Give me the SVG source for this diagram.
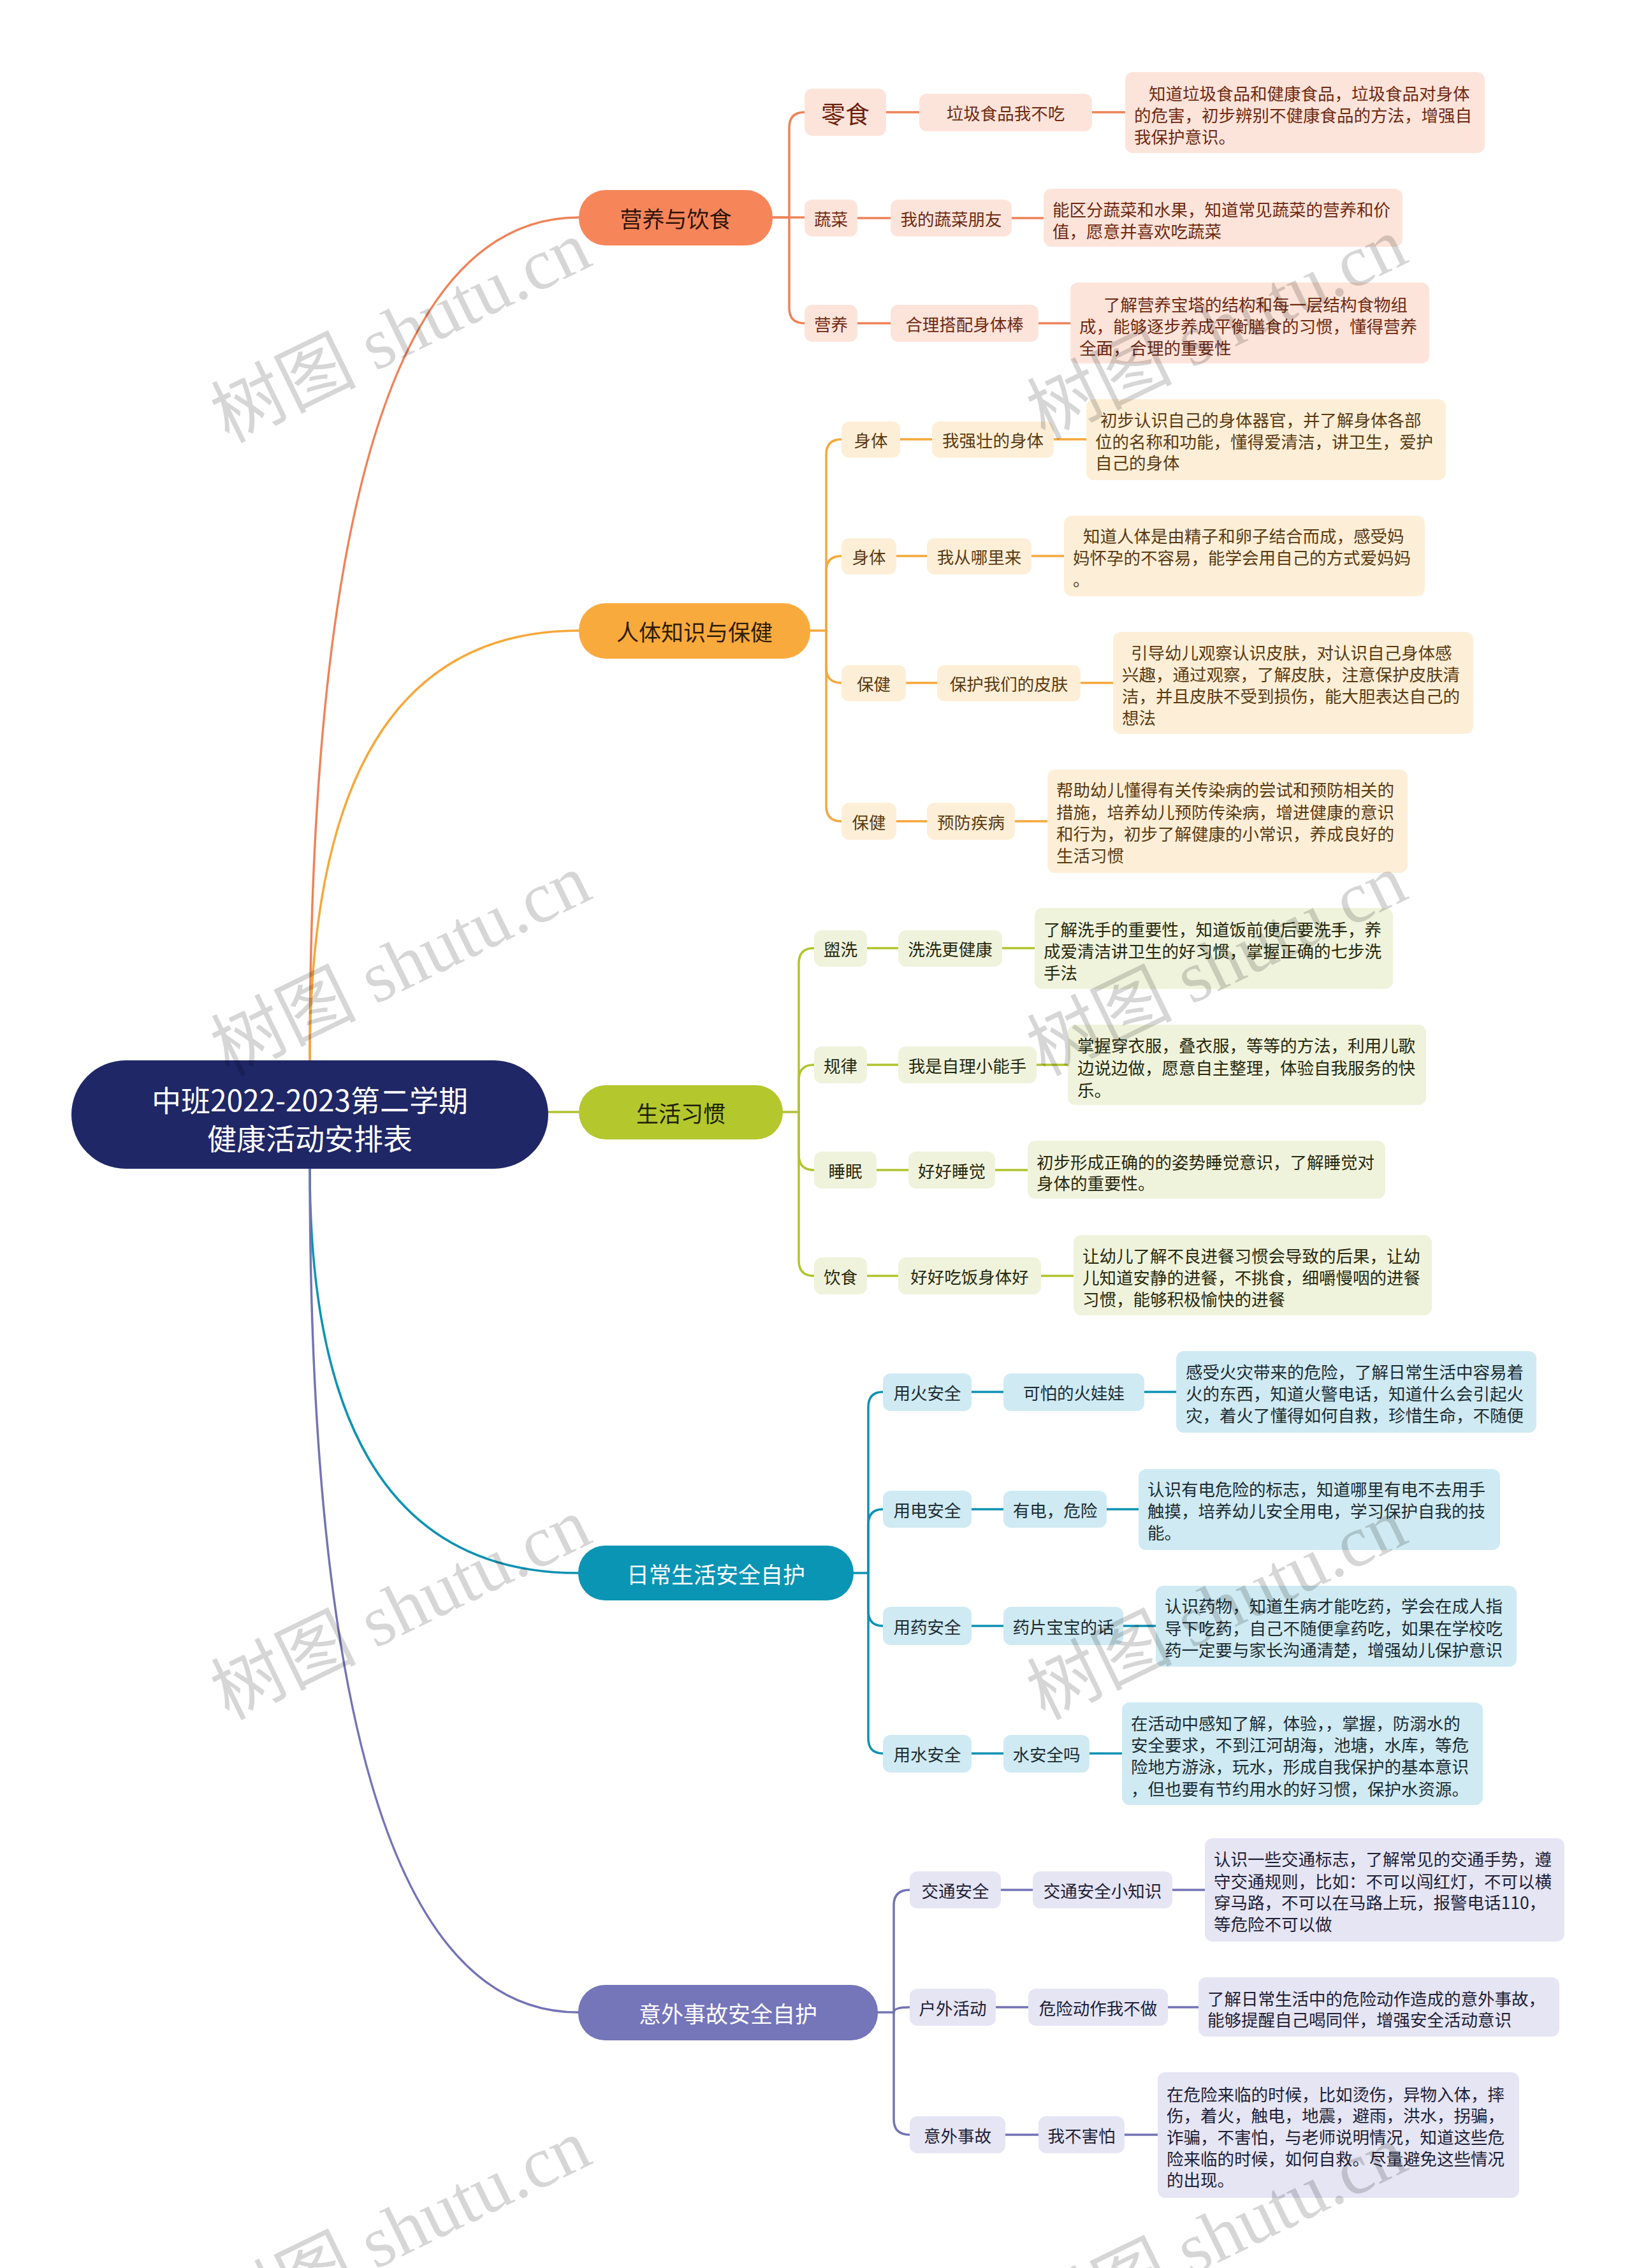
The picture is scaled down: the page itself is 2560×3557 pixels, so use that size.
<svg xmlns="http://www.w3.org/2000/svg" width="2560" height="3557" viewBox="0 0 2560 3557">
<style>
text{font-family:"Noto Sans CJK SC","Noto Sans",sans-serif}
.rt{fill:#ffffff;font-size:46px;text-anchor:middle;dominant-baseline:central}
.mt{font-size:35px;text-anchor:middle;dominant-baseline:central}
.nt{font-size:26.5px;text-anchor:middle;dominant-baseline:central}
.dt{font-size:26.5px;dominant-baseline:central}
.c{fill:none;stroke-width:3.5;stroke-linecap:round}
.k1{stroke:#ef8258}.k2{stroke:#f5a83a}.k3{stroke:#b1c42e}.k4{stroke:#0e92b2}.k5{stroke:#7373b6}
.m1{fill:#f6865a}.m2{fill:#f9aa3c}.m3{fill:#b4c72d}.m4{fill:#0b95b5}.m5{fill:#7575ba}
.n1{fill:#fde4da}.n2{fill:#fdefd7}.n3{fill:#f0f3dc}.n4{fill:#cfeaf2}.n5{fill:#e5e5f4}
.x1{fill:#6e2a12}.x2{fill:#5a3a12}.x3{fill:#26290e}.x4{fill:#1c2c33}.x5{fill:#1e1e36}
.wm{font-family:"Liberation Serif","Noto Sans CJK SC",serif;font-size:114px;fill:#000000;fill-opacity:0.16}
</style>
<rect x="0" y="0" width="2560" height="3557" fill="#ffffff"/>

<g id="connectors">
  <path class="c k1" d="M486 1663 Q486 341 908 341"/>
  <path class="c k2" d="M486 1663 Q486 989 908 989"/>
  <path class="c k3" d="M860 1744 H908"/>
  <path class="c k4" d="M486 1833 Q486 2467 907 2467"/>
  <path class="c k5" d="M486 1833 Q486 3156 907 3156"/>

  <path class="c k1" d="M1212 341 H1238 V200 Q1238 176 1262 176"/>
  <path class="c k1" d="M1212 341 H1262"/>
  <path class="c k1" d="M1238 341 V483 Q1238 507 1262 507"/>
  <path class="c k1" d="M1390 176 H1442 M1713 176 H1765 M1345 342 H1397 M1587 342 H1637 M1345 507 H1397 M1629 507 H1679"/>

  <path class="c k2" d="M1271 989 H1296 V713 Q1296 689 1320 689"/>
  <path class="c k2" d="M1296 989 V896 Q1296 872 1320 872"/>
  <path class="c k2" d="M1296 989 V1047 Q1296 1071 1320 1071"/>
  <path class="c k2" d="M1296 989 V1264 Q1296 1288 1320 1288"/>
  <path class="c k2" d="M1412 689 H1462 M1653 689 H1704 M1406 872 H1454 M1618 872 H1669 M1421 1071 H1470 M1695 1071 H1746 M1406 1288 H1454 M1592 1288 H1643"/>

  <path class="c k3" d="M1228 1744 H1253 V1511 Q1253 1487 1277 1487"/>
  <path class="c k3" d="M1253 1744 V1694 Q1253 1670 1277 1670"/>
  <path class="c k3" d="M1253 1744 V1811 Q1253 1835 1277 1835"/>
  <path class="c k3" d="M1253 1744 V1977 Q1253 2001 1277 2001"/>
  <path class="c k3" d="M1360 1487 H1409 M1572 1487 H1623 M1360 1670 H1409 M1626 1670 H1675 M1375 1835 H1425 M1561 1835 H1612 M1360 2001 H1409 M1633 2001 H1684"/>

  <path class="c k4" d="M1339 2467 H1362 V2207 Q1362 2183 1385 2183"/>
  <path class="c k4" d="M1362 2467 V2391 Q1362 2367 1385 2367"/>
  <path class="c k4" d="M1362 2467 V2526 Q1362 2550 1385 2550"/>
  <path class="c k4" d="M1362 2467 V2726 Q1362 2750 1385 2750"/>
  <path class="c k4" d="M1524 2183 H1574 M1795 2183 H1845 M1524 2367 H1574 M1736 2367 H1786 M1524 2550 H1574 M1762 2550 H1813 M1524 2750 H1574 M1709 2750 H1760"/>

  <path class="c k5" d="M1377 3156 H1402 V2988 Q1402 2964 1427 2964"/>
  <path class="c k5" d="M1402 3156 Q1402 3148 1427 3148"/>
  <path class="c k5" d="M1402 3156 V3324 Q1402 3348 1427 3348"/>
  <path class="c k5" d="M1570 2964 H1620 M1839 2964 H1890 M1562 3148 H1613 M1832 3148 H1880 M1577 3348 H1629 M1764 3348 H1816"/>
</g>

<g id="root">
  <rect x="112" y="1663" width="748" height="170" rx="85" fill="#1f2766"/>
  <text class="rt" x="486" y="1723">中班2022-2023第二学期</text>
  <text class="rt" x="486" y="1783">健康活动安排表</text>
</g>

<!-- Branch 1 -->
<g id="b1"><rect class="m1" x="908" y="298" width="304" height="87" rx="42"/><text class="mt" x="1060" y="341" fill="#2e1409">营养与饮食</text></g>
<g id="b1-1"><rect class="n1" x="1262" y="139" width="128" height="74" rx="12"/><text class="nt x1" x="1326" y="176" style="font-size:38px;fill:#6a1d0a">零食</text></g>
<g id="b1-1-1"><rect class="n1" x="1442" y="147" width="271" height="59" rx="12"/><text class="nt x1" x="1577.5" y="176.5">垃圾食品我不吃</text></g>
<g id="b1-1-1-1"><rect class="n1" x="1765" y="113" width="564" height="127" rx="12"/><text class="dt x1"><tspan x="1802" y="145">知道垃圾食品和健康食品，垃圾食品对身体</tspan><tspan x="1779" y="179">的危害，初步辨别不健康食品的方法，增强自</tspan><tspan x="1779" y="213">我保护意识。</tspan></text></g>
<g id="b1-2"><rect class="n1" x="1262" y="313" width="83" height="58" rx="12"/><text class="nt x1" x="1303.5" y="342">蔬菜</text></g>
<g id="b1-2-1"><rect class="n1" x="1397" y="313" width="190" height="58" rx="12"/><text class="nt x1" x="1492" y="342">我的蔬菜朋友</text></g>
<g id="b1-2-1-1"><rect class="n1" x="1637" y="296" width="563" height="91" rx="12"/><text class="dt x1"><tspan x="1651" y="327">能区分蔬菜和水果，知道常见蔬菜的营养和价</tspan><tspan x="1651" y="361">值，愿意并喜欢吃蔬菜</tspan></text></g>
<g id="b1-3"><rect class="n1" x="1262" y="478" width="83" height="58" rx="12"/><text class="nt x1" x="1303.5" y="507">营养</text></g>
<g id="b1-3-1"><rect class="n1" x="1397" y="478" width="232" height="58" rx="12"/><text class="nt x1" x="1513" y="507">合理搭配身体棒</text></g>
<g id="b1-3-1-1"><rect class="n1" x="1679" y="443" width="563" height="127" rx="12"/><text class="dt x1"><tspan x="1731" y="476">了解营养宝塔的结构和每一层结构食物组</tspan><tspan x="1693" y="510">成，能够逐步养成平衡膳食的习惯，懂得营养</tspan><tspan x="1693" y="544">全面，合理的重要性</tspan></text></g>

<!-- Branch 2 -->
<g id="b2"><rect class="m2" x="908" y="946" width="363" height="87" rx="42"/><text class="mt" x="1089.5" y="989" fill="#2e1d06">人体知识与保健</text></g>
<g id="b2-1"><rect class="n2" x="1320" y="661" width="92" height="57" rx="12"/><text class="nt x2" x="1366" y="689.5">身体</text></g>
<g id="b2-1-1"><rect class="n2" x="1462" y="661" width="191" height="57" rx="12"/><text class="nt x2" x="1557.5" y="689.5">我强壮的身体</text></g>
<g id="b2-1-1-1"><rect class="n2" x="1704" y="626" width="564" height="127" rx="12"/><text class="dt x2"><tspan x="1726" y="657">初步认识自己的身体器官，并了解身体各部</tspan><tspan x="1718" y="691">位的名称和功能，懂得爱清洁，讲卫生，爱护</tspan><tspan x="1718" y="724">自己的身体</tspan></text></g>
<g id="b2-2"><rect class="n2" x="1320" y="844" width="86" height="57" rx="12"/><text class="nt x2" x="1363" y="872.5">身体</text></g>
<g id="b2-2-1"><rect class="n2" x="1454" y="844" width="164" height="57" rx="12"/><text class="nt x2" x="1536" y="872.5">我从哪里来</text></g>
<g id="b2-2-1-1"><rect class="n2" x="1669" y="809" width="566" height="126" rx="12"/><text class="dt x2"><tspan x="1699" y="839">知道人体是由精子和卵子结合而成，感受妈</tspan><tspan x="1683" y="873">妈怀孕的不容易，能学会用自己的方式爱妈妈</tspan><tspan x="1683" y="907">。</tspan></text></g>
<g id="b2-3"><rect class="n2" x="1320" y="1043" width="101" height="57" rx="12"/><text class="nt x2" x="1370.5" y="1071.5">保健</text></g>
<g id="b2-3-1"><rect class="n2" x="1470" y="1043" width="225" height="57" rx="12"/><text class="nt x2" x="1582.5" y="1071.5">保护我们的皮肤</text></g>
<g id="b2-3-1-1"><rect class="n2" x="1746" y="991" width="565" height="160" rx="12"/><text class="dt x2"><tspan x="1774" y="1022">引导幼儿观察认识皮肤，对认识自己身体感</tspan><tspan x="1760" y="1056">兴趣，通过观察，了解皮肤，注意保护皮肤清</tspan><tspan x="1760" y="1090">洁，并且皮肤不受到损伤，能大胆表达自己的</tspan><tspan x="1760" y="1124">想法</tspan></text></g>
<g id="b2-4"><rect class="n2" x="1320" y="1259" width="86" height="58" rx="12"/><text class="nt x2" x="1363" y="1288">保健</text></g>
<g id="b2-4-1"><rect class="n2" x="1454" y="1259" width="138" height="58" rx="12"/><text class="nt x2" x="1523" y="1288">预防疾病</text></g>
<g id="b2-4-1-1"><rect class="n2" x="1643" y="1207" width="565" height="162" rx="12"/><text class="dt x2"><tspan x="1657" y="1237">帮助幼儿懂得有关传染病的尝试和预防相关的</tspan><tspan x="1657" y="1272">措施，培养幼儿预防传染病，增进健康的意识</tspan><tspan x="1657" y="1306">和行为，初步了解健康的小常识，养成良好的</tspan><tspan x="1657" y="1340">生活习惯</tspan></text></g>

<!-- Branch 3 -->
<g id="b3"><rect class="m3" x="908" y="1702" width="320" height="85" rx="42"/><text class="mt" x="1068" y="1744.5" fill="#1c1e08">生活习惯</text></g>
<g id="b3-1"><rect class="n3" x="1277" y="1459" width="83" height="57" rx="12"/><text class="nt x3" x="1318.5" y="1487.5">盥洗</text></g>
<g id="b3-1-1"><rect class="n3" x="1409" y="1459" width="163" height="57" rx="12"/><text class="nt x3" x="1490.5" y="1487.5">洗洗更健康</text></g>
<g id="b3-1-1-1"><rect class="n3" x="1623" y="1424" width="562" height="127" rx="12"/><text class="dt x3"><tspan x="1637" y="1456">了解洗手的重要性，知道饭前便后要洗手，养</tspan><tspan x="1637" y="1490">成爱清洁讲卫生的好习惯，掌握正确的七步洗</tspan><tspan x="1637" y="1524">手法</tspan></text></g>
<g id="b3-2"><rect class="n3" x="1277" y="1641" width="83" height="58" rx="12"/><text class="nt x3" x="1318.5" y="1670">规律</text></g>
<g id="b3-2-1"><rect class="n3" x="1409" y="1641" width="217" height="58" rx="12"/><text class="nt x3" x="1517.5" y="1670">我是自理小能手</text></g>
<g id="b3-2-1-1"><rect class="n3" x="1675" y="1607" width="562" height="126" rx="12"/><text class="dt x3"><tspan x="1690" y="1638">掌握穿衣服，叠衣服，等等的方法，利用儿歌</tspan><tspan x="1690" y="1673">边说边做，愿意自主整理，体验自我服务的快</tspan><tspan x="1690" y="1708">乐。</tspan></text></g>
<g id="b3-3"><rect class="n3" x="1277" y="1806" width="98" height="58" rx="12"/><text class="nt x3" x="1326" y="1835">睡眠</text></g>
<g id="b3-3-1"><rect class="n3" x="1425" y="1806" width="136" height="58" rx="12"/><text class="nt x3" x="1493" y="1835">好好睡觉</text></g>
<g id="b3-3-1-1"><rect class="n3" x="1612" y="1789" width="561" height="91" rx="12"/><text class="dt x3"><tspan x="1626" y="1821">初步形成正确的的姿势睡觉意识，了解睡觉对</tspan><tspan x="1626" y="1854">身体的重要性。</tspan></text></g>
<g id="b3-4"><rect class="n3" x="1277" y="1972" width="83" height="58" rx="12"/><text class="nt x3" x="1318.5" y="2001">饮食</text></g>
<g id="b3-4-1"><rect class="n3" x="1409" y="1972" width="224" height="58" rx="12"/><text class="nt x3" x="1521" y="2001">好好吃饭身体好</text></g>
<g id="b3-4-1-1"><rect class="n3" x="1684" y="1937" width="562" height="126" rx="12"/><text class="dt x3"><tspan x="1698" y="1968">让幼儿了解不良进餐习惯会导致的后果，让幼</tspan><tspan x="1698" y="2002">儿知道安静的进餐，不挑食，细嚼慢咽的进餐</tspan><tspan x="1698" y="2036">习惯，能够积极愉快的进餐</tspan></text></g>

<!-- Branch 4 -->
<g id="b4"><rect class="m4" x="907" y="2424" width="432" height="86" rx="42"/><text class="mt" x="1123" y="2467" fill="#ffffff">日常生活安全自护</text></g>
<g id="b4-1"><rect class="n4" x="1385" y="2154" width="139" height="59" rx="12"/><text class="nt x4" x="1454.5" y="2183.5">用火安全</text></g>
<g id="b4-1-1"><rect class="n4" x="1574" y="2154" width="221" height="59" rx="12"/><text class="nt x4" x="1684.5" y="2183.5">可怕的火娃娃</text></g>
<g id="b4-1-1-1"><rect class="n4" x="1845" y="2119" width="565" height="128" rx="12"/><text class="dt x4"><tspan x="1860" y="2150">感受火灾带来的危险，了解日常生活中容易着</tspan><tspan x="1860" y="2184">火的东西，知道火警电话，知道什么会引起火</tspan><tspan x="1860" y="2218">灾，着火了懂得如何自救，珍惜生命，不随便</tspan></text></g>
<g id="b4-2"><rect class="n4" x="1385" y="2338" width="139" height="58" rx="12"/><text class="nt x4" x="1454.5" y="2367">用电安全</text></g>
<g id="b4-2-1"><rect class="n4" x="1574" y="2338" width="162" height="58" rx="12"/><text class="nt x4" x="1655" y="2367">有电，危险</text></g>
<g id="b4-2-1-1"><rect class="n4" x="1786" y="2304" width="567" height="127" rx="12"/><text class="dt x4"><tspan x="1800" y="2334">认识有电危险的标志，知道哪里有电不去用手</tspan><tspan x="1800" y="2368">触摸，培养幼儿安全用电，学习保护自我的技</tspan><tspan x="1800" y="2402">能。</tspan></text></g>
<g id="b4-3"><rect class="n4" x="1385" y="2520" width="139" height="60" rx="12"/><text class="nt x4" x="1454.5" y="2550">用药安全</text></g>
<g id="b4-3-1"><rect class="n4" x="1574" y="2520" width="188" height="60" rx="12"/><text class="nt x4" x="1668" y="2550">药片宝宝的话</text></g>
<g id="b4-3-1-1"><rect class="n4" x="1813" y="2487" width="566" height="127" rx="12"/><text class="dt x4"><tspan x="1827" y="2517">认识药物，知道生病才能吃药，学会在成人指</tspan><tspan x="1827" y="2552">导下吃药，自己不随便拿药吃，如果在学校吃</tspan><tspan x="1827" y="2586">药一定要与家长沟通清楚，增强幼儿保护意识</tspan></text></g>
<g id="b4-4"><rect class="n4" x="1385" y="2721" width="139" height="59" rx="12"/><text class="nt x4" x="1454.5" y="2750.5">用水安全</text></g>
<g id="b4-4-1"><rect class="n4" x="1574" y="2721" width="135" height="59" rx="12"/><text class="nt x4" x="1641.5" y="2750.5">水安全吗</text></g>
<g id="b4-4-1-1"><rect class="n4" x="1760" y="2670" width="566" height="161" rx="12"/><text class="dt x4"><tspan x="1774" y="2701">在活动中感知了解，体验，，掌握，防溺水的</tspan><tspan x="1774" y="2735">安全要求，不到江河胡海，池塘，水库，等危</tspan><tspan x="1774" y="2769">险地方游泳，玩水，形成自我保护的基本意识</tspan><tspan x="1774" y="2804">，但也要有节约用水的好习惯，保护水资源。</tspan></text></g>

<!-- Branch 5 -->
<g id="b5"><rect class="m5" x="907" y="3113" width="470" height="87" rx="42"/><text class="mt" x="1142" y="3156" fill="#ffffff">意外事故安全自护</text></g>
<g id="b5-1"><rect class="n5" x="1427" y="2935" width="143" height="58" rx="12"/><text class="nt x5" x="1498.5" y="2964">交通安全</text></g>
<g id="b5-1-1"><rect class="n5" x="1620" y="2935" width="219" height="58" rx="12"/><text class="nt x5" x="1729.5" y="2964">交通安全小知识</text></g>
<g id="b5-1-1-1"><rect class="n5" x="1890" y="2883" width="564" height="162" rx="12"/><text class="dt x5"><tspan x="1904" y="2914">认识一些交通标志，了解常见的交通手势，遵</tspan><tspan x="1904" y="2949">守交通规则，比如：不可以闯红灯，不可以横</tspan><tspan x="1904" y="2982">穿马路，不可以在马路上玩，报警电话110，</tspan><tspan x="1904" y="3016">等危险不可以做</tspan></text></g>
<g id="b5-2"><rect class="n5" x="1427" y="3119" width="135" height="58" rx="12"/><text class="nt x5" x="1494.5" y="3148">户外活动</text></g>
<g id="b5-2-1"><rect class="n5" x="1613" y="3119" width="219" height="58" rx="12"/><text class="nt x5" x="1722.5" y="3148">危险动作我不做</text></g>
<g id="b5-2-1-1"><rect class="n5" x="1880" y="3101" width="566" height="93" rx="12"/><text class="dt x5"><tspan x="1894" y="3133">了解日常生活中的危险动作造成的意外事故，</tspan><tspan x="1894" y="3166">能够提醒自己喝同伴，增强安全活动意识</tspan></text></g>
<g id="b5-3"><rect class="n5" x="1427" y="3319" width="150" height="58" rx="12"/><text class="nt x5" x="1502" y="3348">意外事故</text></g>
<g id="b5-3-1"><rect class="n5" x="1629" y="3319" width="135" height="58" rx="12"/><text class="nt x5" x="1696.5" y="3348">我不害怕</text></g>
<g id="b5-3-1-1"><rect class="n5" x="1816" y="3250" width="567" height="197" rx="12"/><text class="dt x5"><tspan x="1830" y="3283">在危险来临的时候，比如烫伤，异物入体，摔</tspan><tspan x="1830" y="3316">伤，着火，触电，地震，避雨，洪水，拐骗，</tspan><tspan x="1830" y="3350">诈骗，不害怕，与老师说明情况，知道这些危</tspan><tspan x="1830" y="3384">险来临的时候，如何自救。尽量避免这些情况</tspan><tspan x="1830" y="3417">的出现。</tspan></text></g>

<g id="watermark">
  <text class="wm" transform="translate(358 695) rotate(-26)">树图 shutu.cn</text>
  <text class="wm" transform="translate(1638 690) rotate(-26)">树图 shutu.cn</text>
  <text class="wm" transform="translate(358 1688) rotate(-26)">树图 shutu.cn</text>
  <text class="wm" transform="translate(1638 1688) rotate(-26)">树图 shutu.cn</text>
  <text class="wm" transform="translate(358 2698) rotate(-26)">树图 shutu.cn</text>
  <text class="wm" transform="translate(1638 2698) rotate(-26)">树图 shutu.cn</text>
  <text class="wm" transform="translate(358 3672) rotate(-26)">树图 shutu.cn</text>
  <text class="wm" transform="translate(1638 3682) rotate(-26)">树图 shutu.cn</text>
</g>
</svg>
